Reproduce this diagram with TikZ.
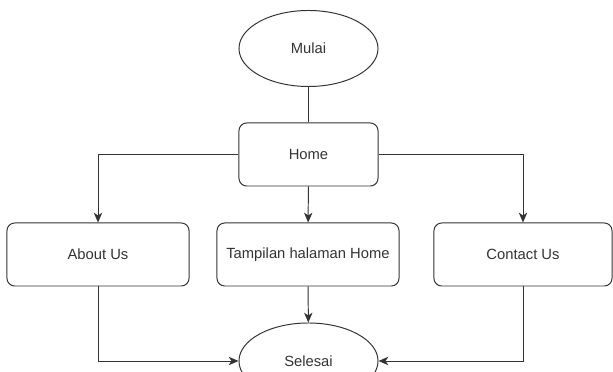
\documentclass[tikz,border=0pt]{standalone}
\usepackage{fontspec}
\setmainfont{Liberation Sans}
\usetikzlibrary{shapes.geometric,arrows.meta}
\definecolor{garis}{HTML}{333333}

\begin{document}
\begin{tikzpicture}[x=0.025cm,y=-0.025cm,
		kotak/.style={draw=garis, line width=0.7pt, rounded corners=5.5pt, minimum height=1.575cm, inner sep=1pt, text=garis, font=\fontsize{10.5}{12}\selectfont},
		oval/.style={draw=garis, line width=0.7pt, ellipse, minimum width=3.475cm, minimum height=1.9cm, inner sep=0pt, text=garis, font=\fontsize{10.5}{12}\selectfont},
		panah/.style={draw=garis, line width=0.7pt, -{Stealth[length=7pt,width=6pt,inset=2pt]}}]
		\useasboundingbox (0,0) rectangle (613,372);
		\clip (0,0) rectangle (613,372);
		\node [oval](mulai)at (308.5,48.5) {Mulai};
		\node [kotak, minimum width=3.475cm](home)at (308.5,154.5) {Home};
		\node [kotak, minimum width=4.55cm](about)at (98,254.5) {About Us};
		\node [kotak, minimum width=4.55cm](tampilan)at (308,254.5) {Tampilan halaman Home};
		\node [kotak, minimum width=4.45cm](contact)at (523,254.5) {Contact Us};
		\node [oval](selesai)at (308.5,361) {Selesai};
		\draw [draw=garis, line width=0.7pt](mulai)--(home);
		\draw [panah](home.west)-|(about.north);
		\draw [panah](home)--(tampilan);
		\draw [panah](home.east)-|(contact.north);
		\draw [panah](tampilan)--(selesai);
		\draw [panah](about.south)|-(selesai.west);
		\draw [panah](contact.south)|-(selesai.east);
	\end{tikzpicture}
\end{document}
